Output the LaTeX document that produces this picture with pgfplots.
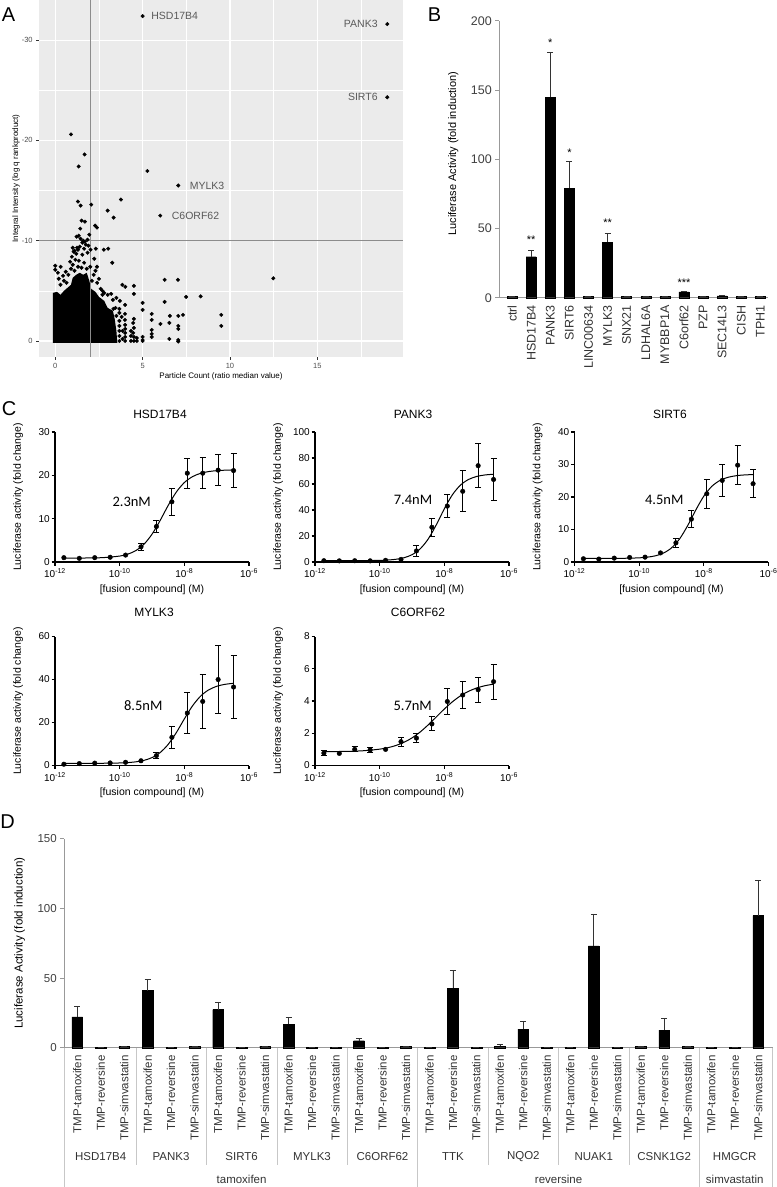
\documentclass[border=0pt]{standalone}
\usepackage{pgfplots}
\pgfplotsset{compat=1.18}
\usepackage{fontspec}
\setmainfont{Liberation Sans}
\newfontfamily\calib{Carlito}
\newcommand\fs[1]{\fontsize{#1}{#1}\selectfont}

\pgfplotsset{
  /pgf/number format/assume math mode=true,
  excel/.style={
    scale only axis, anchor=south west, ymin=0,
    axis x line=bottom, axis y line=left,
    axis line style={-, black!40, line width=0.7pt},
    every outer x axis line/.append style={-},
    every outer y axis line/.append style={-},
    tick align=outside, major tick length=4pt,
    ytick style={black!40, line width=0.7pt}, xtick style={draw=none},
    xticklabel style={rotate=90, anchor=east, text=black!80},
    yticklabel style={text=black!75},
    ybar, clip=false,
  },
  bars/.style={fill=black, draw=black,
    error bars/y dir=plus, error bars/y explicit,
    error bars/error bar style={black!80, line width=0.6pt},
    error bars/error mark options={rotate=90, black!80, line width=0.6pt, mark size=3pt}},
  cax/.style={
    scale only axis, anchor=south west, width=194pt,
    xmin=-12, xmax=-6, ymin=0,
    axis x line=bottom, axis y line=left,
    axis line style={-, line width=1.1pt},
    every outer x axis line/.append style={-},
    every outer y axis line/.append style={-},
    tick style={black, line width=1.1pt},
    tick align=outside, major tick length=3.5pt,
    xtick={-12,-10,-8,-6},
    xticklabels={10\textsuperscript{-12},10\textsuperscript{-10},10\textsuperscript{-8},10\textsuperscript{-6}},
    tick label style={font=\fs{10}},
    yticklabel style={inner sep=1.5pt},
    xlabel={[fusion compound] (M)},
    ylabel={Luciferase activity (fold change)},
    label style={font=\fs{10.5}},
    xlabel style={at={(axis description cs:0.5,-0.215)}, anchor=center},
    ylabel style={at={(axis description cs:-0.19,0.5)}, anchor=center},
    clip=false,
  },
  sigfit/.style={black, line width=1pt, smooth, mark=none},
  pts/.style={black, only marks, mark=*, mark size=2.3pt},
  errpts/.style={black, only marks, mark=*, mark size=2.3pt,
    error bars/y dir=both, error bars/y explicit,
    error bars/error bar style={line width=1pt, black},
    error bars/error mark options={rotate=90, line width=1pt, mark size=3pt, black}},
}

\begin{document}
\begin{tikzpicture}
\useasboundingbox (0,0) rectangle (777pt,-1187pt);

% ---------------- A: screen scatter ----------------
\begin{axis}[
  scale only axis, anchor=south west, at={(39pt,-357pt)},
  width=364pt, height=357pt,
  xmin=-0.93, xmax=19.9, ymin=-34, ymax=1.6, y dir=reverse,
  axis line style={draw=none},
  axis background/.style={fill=black!8},
  xtick={0,5,10,15}, ytick={-30,-20,-10,0},
  yticklabels={-30,-20,-10,0},
  minor xtick={2.5,7.5,12.5,17.5}, minor ytick={-25,-15,-5},
  grid=both,
  major grid style={white, line width=1.1pt},
  minor grid style={white, line width=0.55pt},
  xtick pos=bottom, ytick pos=left,
  tick align=outside, major tick length=2.8pt, minor tick length=0pt,
  tick style={black!80, line width=0.5pt},
  tick label style={font=\fs{7.5}, text=black!70},
  xlabel={Particle Count (ratio median value)},
  ylabel={Integral Intensity (log q rankproduct)},
  label style={font=\fs{8}},
  xlabel style={at={(axis description cs:0.5,-0.035)}, anchor=north},
  ylabel style={at={(axis description cs:-0.063,0.5)}, anchor=center},
]
% dense core of the cloud
\addplot[fill=black, draw=none] coordinates {
(-0.13,0.2) (-0.13,-4.8) (0.1,-4.9) (0.3,-4.6) (0.5,-5.0) (0.7,-5.3) (0.9,-5.6)
(1.0,-6.3) (1.2,-6.6) (1.4,-6.8) (1.6,-6.6) (1.8,-6.8) (1.95,-6.0) (2.05,-5.2)
(2.3,-4.9) (2.5,-4.4) (2.8,-4.0) (3.0,-3.3) (3.3,-3.0) (3.4,-2.2) (3.5,-1.0) (3.55,0.2)} -- cycle;
\addplot[black, only marks, mark=*, mark size=1.8pt] coordinates {
(5.0,-32.4) (19.0,-31.6) (19.0,-24.3) (7.04,-15.5) (6.01,-12.5)
(0.90,-20.6) (1.68,-18.6) (1.34,-17.4) (5.27,-16.95) (1.30,-13.9) (1.45,-13.5)
(2.06,-13.6) (3.76,-14.1) (3.0,-13.0) (3.34,-12.3) (1.51,-12.0) (1.70,-11.9)
(1.43,-11.2) (2.28,-11.5) (2.39,-11.3) (1.22,-10.4) (1.34,-10.5) (1.85,-10.1)
(1.6,-10.0) (1.75,-9.6) (2.32,-9.2) (2.78,-9.1) (3.03,-9.2) (2.02,-9.1)
(2.23,-8.2) (2.39,-7.4) (3.26,-7.8) (0.0,-7.5) (0.31,-7.4) (0.0,-7.1)
(0.15,-6.8) (0.6,-6.9) (0.45,-6.5) (1.1,-9.0) (1.2,-8.7) (0.95,-8.4)
(1.0,-9.3) (1.4,-9.4) (1.55,-9.8) (1.3,-9.1) (0.85,-7.9) (1.65,-9.2)
(0.9,-7.2) (1.0,-7.6) (1.1,-7.0) (1.15,-8.1) (1.3,-7.4) (1.35,-8.0)
(1.5,-7.3) (1.55,-8.6) (1.65,-7.8) (1.8,-7.2) (1.85,-8.8) (1.9,-9.5)
(1.7,-9.9) (1.05,-8.9) (0.75,-6.6) (0.5,-6.0) (0.3,-5.6) (0.2,-6.2)
(2.1,-6.0) (2.2,-6.6) (2.4,-5.8) (2.6,-5.2) (2.5,-6.2) (2.3,-7.0)
(2.0,-7.4) (2.7,-4.6) (0.65,-5.8) (1.25,-9.3) (1.95,-10.6) (1.45,-10.2)
(3.84,-5.6) (4.01,-5.4) (4.50,-5.5) (4.50,-4.7) (6.26,-6.1) (7.02,-6.1)
(12.48,-6.25) (7.49,-4.4) (8.32,-4.45) (6.26,-3.9) (5.0,-3.8) (5.0,-3.1)
(5.52,-2.7) (7.31,-2.6) (7.04,-2.5) (6.56,-2.5) (9.50,-2.6) (9.50,-1.5)
(6.02,-1.7) (6.53,-1.8) (7.04,-1.5) (7.04,-1.2) (5.52,-2.1) (5.0,-0.4)
(5.52,-1.1) (5.52,-0.4) (6.53,-0.2) (7.04,-0.1) (7.04,0.05) (5.0,-0.1)
(3.99,-2.7) (3.99,-2.1) (4.46,-1.8) (4.46,-0.8) (5.52,-0.7) (5.0,0)
(2.8,-4.8) (3.0,-4.6) (3.2,-4.7) (3.5,-4.3) (3.7,-4.0) (2.7,-5.0)
(3.3,-4.1) (4.0,-3.6) (3.45,-3.3) (3.67,-2.8) (3.67,-3.2) (3.8,-2.4)
(3.67,0) (3.67,-0.5) (3.67,-1.0) (3.67,-1.5) (3.67,-2.0) (3.5,-2.5) (3.33,-3.2)
(4.0,0) (4.0,-0.4) (4.0,-0.8) (4.0,-1.2) (4.0,-1.6)
(4.33,0) (4.33,-0.5) (4.33,-1.0) (4.5,0) (4.5,-0.4) (4.5,-1.3) (4.5,-2.2)
(4.67,0) (4.67,-0.3) (3.85,-0.2) (3.85,-1.0)};
\addplot[black!45, line width=0.8pt] coordinates {(2,-34) (2,1.6)};
\addplot[black!45, line width=0.8pt] coordinates {(-0.93,-10) (19.9,-10)};
\node[anchor=west, text=black!65, font=\fs{10.5}] at (axis cs:5.3,-32.4) {HSD17B4};
\node[anchor=east, text=black!65, font=\fs{10.5}] at (axis cs:18.65,-31.6) {PANK3};
\node[anchor=east, text=black!65, font=\fs{10.5}] at (axis cs:18.65,-24.3) {SIRT6};
\node[anchor=west, text=black!65, font=\fs{10.5}] at (axis cs:7.5,-15.5) {MYLK3};
\node[anchor=west, text=black!65, font=\fs{10.5}] at (axis cs:6.47,-12.5) {C6ORF62};
\end{axis}

% ---------------- B: luciferase screen ----------------
\begin{axis}[excel, at={(499.3pt,-297.7pt)}, width=268.7pt, height=277pt,
  xmin=-0.67, xmax=13.4, ymax=200, ytick={0,50,100,150,200},
  bar width=10pt, xtick={0,...,13},
  xticklabels={ctrl,HSD17B4,PANK3,SIRT6,LINC00634,MYLK3,SNX21,LDHAL6A,MYBBP1A,C6orf62,PZP,SEC14L3,CISH,TPH1},
  tick label style={font=\fs{12.5}},
  ylabel={Luciferase Activity (fold induction)},
  ylabel style={font=\fs{11}, at={(axis description cs:-0.171,0.52)}, anchor=center},
]
\addplot[bars] coordinates {
(0,1.0) +- (0,0) (1,29.6) +- (0,4.8) (2,144.7) +- (0,32.7) (3,79) +- (0,19.2)
(4,0.8) +- (0,0) (5,40) +- (0,6.2) (6,1.0) +- (0,0) (7,0.8) +- (0,0)
(8,0.8) +- (0,0) (9,4.3) +- (0,0.5) (10,1.0) +- (0,0) (11,1.3) +- (0,0.3)
(12,0.8) +- (0,0) (13,1.0) +- (0,0)};
\node[font=\fs{11}] at (axis cs:1,42) {**};
\node[font=\fs{11}] at (axis cs:2,184) {*};
\node[font=\fs{11}] at (axis cs:3,104.5) {*};
\node[font=\fs{11}] at (axis cs:5,54) {**};
\node[font=\fs{11}] at (axis cs:9,10.5) {***};
\end{axis}

% ---------------- C: dose response ----------------
\begin{axis}[cax, at={(55pt,-562pt)}, height=130pt, ymax=30, ytick={0,10,20,30}]
\addplot[sigfit] coordinates {(-11.73,0.90) (-11,0.93) (-10.5,1.02) (-10,1.37) (-9.75,1.81)
(-9.5,2.63) (-9.25,4.09) (-9,6.41) (-8.75,9.56) (-8.5,13.05) (-8.25,16.12) (-8,18.33)
(-7.75,19.69) (-7.5,20.46) (-7.25,20.87) (-7,21.08) (-6.75,21.19) (-6.48,21.25)};
\addplot[pts] coordinates {(-11.725,1.0) (-11.248,0.85) (-10.771,1.0) (-10.294,1.1) (-9.817,1.6)};
\addplot[errpts] coordinates {(-9.340,3.5) +- (0,0.8) (-8.863,8.2) +- (0,1.45)
(-8.385,13.9) +- (0,3.15) (-7.908,20.5) +- (0,3.45) (-7.431,20.5) +- (0,3.55)
(-6.954,21.2) +- (0,3.6) (-6.477,21.1) +- (0,3.95)};
\end{axis}

\begin{axis}[cax, at={(315pt,-562pt)}, height=130pt, ymax=100, ytick={0,20,...,100}]
\addplot[sigfit] coordinates {(-11.73,1.0) (-11,1.01) (-10.5,1.06) (-10,1.25) (-9.75,1.52)
(-9.5,2.09) (-9.25,3.27) (-9,5.61) (-8.75,10.06) (-8.5,17.64) (-8.25,28.54) (-8,40.93)
(-7.75,51.73) (-7.5,59.18) (-7.25,63.51) (-7,65.80) (-6.75,66.94) (-6.48,67.53)};
\addplot[pts] coordinates {(-11.725,1.0) (-11.248,0.9) (-10.771,1.0) (-10.294,0.9) (-9.817,1.3) (-9.340,2.0)};
\addplot[errpts] coordinates {(-8.863,8.5) +- (0,3.9) (-8.385,26.7) +- (0,7)
(-7.908,43) +- (0,8.8) (-7.431,54.4) +- (0,15.8) (-6.954,74.1) +- (0,17)
(-6.477,63.5) +- (0,16)};
\end{axis}

\begin{axis}[cax, at={(574.5pt,-562pt)}, height=130pt, ymax=40, ytick={0,10,...,40}]
\addplot[sigfit] coordinates {(-11.73,1.1) (-11,1.11) (-10.5,1.14) (-10,1.28) (-9.75,1.49)
(-9.5,1.90) (-9.25,2.74) (-9,4.34) (-8.75,7.11) (-8.5,11.19) (-8.25,15.97) (-8,20.27)
(-7.75,23.31) (-7.5,25.11) (-7.25,26.07) (-7,26.55) (-6.75,26.79) (-6.48,26.90)};
\addplot[pts] coordinates {(-11.725,1.0) (-11.248,0.9) (-10.771,1.2) (-10.294,1.4) (-9.817,1.5) (-9.340,2.8)};
\addplot[errpts] coordinates {(-8.863,5.9) +- (0,1.35) (-8.385,13.2) +- (0,2.6)
(-7.908,21) +- (0,4.45) (-7.431,25.1) +- (0,5) (-6.954,29.8) +- (0,5.95)
(-6.477,24.1) +- (0,4.4)};
\end{axis}

\begin{axis}[cax, at={(55pt,-765.5pt)}, height=129pt, ymax=60, ytick={0,20,40,60}]
\addplot[sigfit] coordinates {(-11.73,1.0) (-11,1.01) (-10.5,1.05) (-10,1.18) (-9.75,1.36)
(-9.5,1.71) (-9.25,2.39) (-9,3.68) (-8.75,6.00) (-8.5,9.81) (-8.25,15.25) (-8,21.67)
(-7.75,27.68) (-7.5,32.23) (-7.25,35.16) (-7,36.84) (-6.75,37.74) (-6.48,38.24)};
\addplot[pts] coordinates {(-11.725,0.6) (-11.248,0.9) (-10.771,1.1) (-10.294,1.2) (-9.817,1.5) (-9.340,2.2)};
\addplot[errpts] coordinates {(-8.863,4.6) +- (0,1.55) (-8.385,13.1) +- (0,5.1)
(-7.908,24.4) +- (0,9.4) (-7.431,29.8) +- (0,12.6) (-6.954,40) +- (0,15.9)
(-6.477,36.5) +- (0,14.7)};
\end{axis}

\begin{axis}[cax, at={(315pt,-765.5pt)}, height=129pt, ymax=8, ytick={0,2,...,8}]
\addplot[sigfit] coordinates {(-11.73,0.857) (-11,0.877) (-10.5,0.917) (-10,1.014) (-9.75,1.104)
(-9.5,1.240) (-9.25,1.437) (-9,1.712) (-8.75,2.075) (-8.5,2.518) (-8.25,3.010) (-8,3.504)
(-7.75,3.952) (-7.5,4.322) (-7.25,4.604) (-7,4.807) (-6.75,4.947) (-6.48,5.046)};
\addplot[pts] coordinates {(-11.248,0.75) (-9.817,1.0)};
\addplot[errpts] coordinates {(-11.725,0.77) +- (0,0.17) (-10.771,1.0) +- (0,0.15)
(-10.294,0.96) +- (0,0.17) (-9.340,1.48) +- (0,0.28) (-8.863,1.7) +- (0,0.3)
(-8.385,2.58) +- (0,0.43) (-7.908,3.97) +- (0,0.78) (-7.431,4.37) +- (0,0.82)
(-6.954,4.7) +- (0,0.78) (-6.477,5.2) +- (0,1.08)};
\end{axis}

% ---------------- D: drug panel ----------------
\begin{axis}[excel, at={(64.3pt,-1047.7pt)}, width=708.4pt, height=209pt,
  xmin=-0.55, xmax=29.62, ymax=150, ytick={0,50,100,150},
  bar width=10.7pt, xtick={0,...,29},
  xticklabels={TMP-tamoxifen,TMP-reversine,TMP-simvastatin,TMP-tamoxifen,TMP-reversine,TMP-simvastatin,
    TMP-tamoxifen,TMP-reversine,TMP-simvastatin,TMP-tamoxifen,TMP-reversine,TMP-simvastatin,
    TMP-tamoxifen,TMP-reversine,TMP-simvastatin,TMP-tamoxifen,TMP-reversine,TMP-simvastatin,
    TMP-tamoxifen,TMP-reversine,TMP-simvastatin,TMP-tamoxifen,TMP-reversine,TMP-simvastatin,
    TMP-tamoxifen,TMP-reversine,TMP-simvastatin,TMP-tamoxifen,TMP-reversine,TMP-simvastatin},
  tick label style={font=\fs{11.5}},
  ylabel={Luciferase Activity (fold induction)},
  ylabel style={font=\fs{11.5}, at={(axis description cs:-0.063,0.5)}, anchor=center},
]
\addplot[bars] coordinates {
(0,22.1) +- (0,7.7) (1,0.5) +- (0,0) (2,1.0) +- (0,0.2)
(3,41) +- (0,7.8) (4,0.5) +- (0,0) (5,1.0) +- (0,0.2)
(6,27.4) +- (0,5.5) (7,0.5) +- (0,0) (8,1.0) +- (0,0.2)
(9,16.9) +- (0,4.8) (10,0.5) +- (0,0) (11,0.5) +- (0,0)
(12,5.0) +- (0,1.4) (13,0.5) +- (0,0) (14,1.0) +- (0,0.2)
(15,0.5) +- (0,0) (16,42.6) +- (0,12.9) (17,0.5) +- (0,0)
(18,1.0) +- (0,1.2) (19,13.3) +- (0,5.5) (20,0.5) +- (0,0)
(21,0.5) +- (0,0) (22,73.1) +- (0,22.9) (23,0.5) +- (0,0)
(24,1.0) +- (0,0.3) (25,12.6) +- (0,8.6) (26,1.0) +- (0,0.3)
(27,0.5) +- (0,0) (28,0.5) +- (0,0) (29,94.8) +- (0,25)};
\end{axis}

% D: group separators and category labels
\begin{scope}[black!22, line width=0.6pt]
\foreach \x in {135.9,206.4,276.8,347.2,488.1,558.6,629.0}
  \draw (\x pt,-1047.7pt) -- (\x pt,-1165pt);
\foreach \x in {64.3,417.7,699.4,772.7}
  \draw (\x pt,-1047.7pt) -- (\x pt,-1187pt);
\end{scope}
\foreach \x/\g in {100.7/HSD17B4,171.1/PANK3,241.6/SIRT6,312.0/MYLK3,382.5/C6ORF62,
  452.9/TTK,523.3/NQO2,593.8/NUAK1,664.2/CSNK1G2,734.7/HMGCR}
  \node[font=\fs{11.5}, text=black!80] at (\x pt,-1156.7pt) {\g};
\foreach \x/\g in {241.6/tamoxifen,558.6/reversine,734.7/simvastatin}
  \node[font=\fs{11.5}, text=black!80] at (\x pt,-1179.3pt) {\g};

% C: titles and EC50 labels
\node[font=\fs{12}] at (160pt,-414pt) {HSD17B4};
\node[font=\fs{12}] at (413pt,-414pt) {PANK3};
\node[font=\fs{12}] at (670pt,-414pt) {SIRT6};
\node[font=\fs{12}] at (154pt,-612pt) {MYLK3};
\node[font=\fs{12}] at (418pt,-612pt) {C6ORF62};
\node[font=\calib\fs{14.5}] at (131.7pt,-501.7pt) {2.3nM};
\node[font=\calib\fs{14.5}] at (413pt,-500pt) {7.4nM};
\node[font=\calib\fs{14.5}] at (664.3pt,-500pt) {4.5nM};
\node[font=\calib\fs{14.5}] at (143.3pt,-706pt) {8.5nM};
\node[font=\calib\fs{14.5}] at (412.7pt,-706pt) {5.7nM};

% panel letters
\node[font=\fs{20}] at (8.5pt,-14.5pt) {A};
\node[font=\fs{20}] at (434.5pt,-15pt) {B};
\node[font=\fs{20}] at (9pt,-408.3pt) {C};
\node[font=\fs{20}] at (7.5pt,-822pt) {D};
\end{tikzpicture}
\end{document}
